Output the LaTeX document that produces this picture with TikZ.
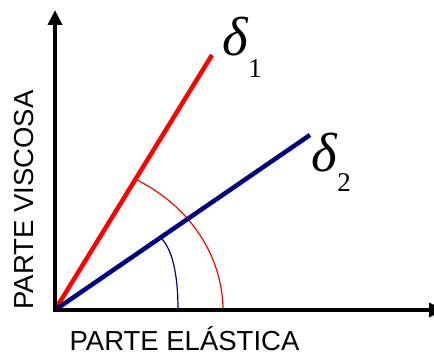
\documentclass[tikz,border=0pt]{standalone}
\usepackage{fontspec}
\setmainfont{Liberation Sans}
\newfontfamily\deltafont{Liberation Serif}
\usepackage{tikz}
\definecolor{navyblue}{RGB}{0,0,128}
\usetikzlibrary{arrows.meta}

\begin{document}
\begin{tikzpicture}[x=1pt, y=1pt,
        >={Triangle[length=15pt,width=14pt]},   %Voreinstellung für Pfeilspitzen
        achse/.style={<->, line width=4.5pt},
        gerade/.style={line width=4.5pt},
        bogen/.style={line width=1.2pt},
        beschr/.style={font=\fontsize{27.5}{30}\selectfont, inner sep=0pt, anchor=base},
        winkel/.style={inner sep=0pt, anchor=base west}]
        %Bildbereich
        \clip (-55,-46) rectangle (379,310);
        % Punkte
        \coordinate (O) at (0,0);
        \coordinate (d1) at (157,255);
        \coordinate (d2) at (255,175);
        \coordinate (xend) at (389,0);
        \coordinate (yend) at (0,300);
        % Boegen zeichnen
        \draw[bogen, red] (82,130) arc[start angle=60.8, end angle=0, x radius=168, y radius=150];
        \draw[bogen, navyblue] (106,72) .. controls (116,62) and (123,40) .. (123,0);
        % Geraden zeichnen
        \draw[gerade, red] (O) -- (d1);
        \draw[gerade, navyblue] (O) -- (d2);
        % Achsen zeichnen
        \draw[achse] (yend) -- (O) -- (xend);
        % Achsen beschriften
        \node[beschr] (xlabel) at (129.5,-41) {PARTE ELÁSTICA};
        \node[beschr, rotate=90] (ylabel) at (-22,110) {PARTE VISCOSA};
        %Winkel beschriften
        \node[winkel] (delta1) at (167,254) {\deltafont\fontsize{55}{55}\selectfont\textit{δ}\fontsize{27}{27}\selectfont\raisebox{-22pt}{1}};
        \node[winkel] (delta2) at (256,138) {\deltafont\fontsize{55}{55}\selectfont\textit{δ}\fontsize{27}{27}\selectfont\raisebox{-20pt}{2}};
    \end{tikzpicture}
\end{document}
